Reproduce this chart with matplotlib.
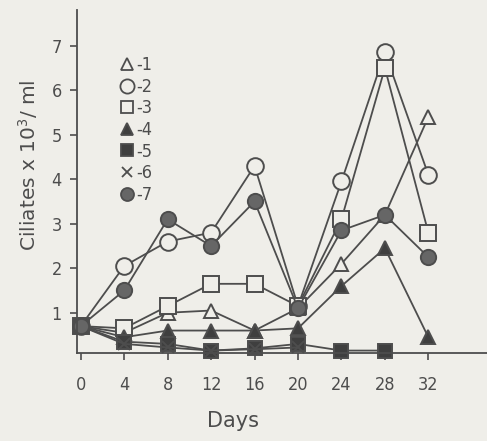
"""Ciliate counts over time for seven cultures (scanned-figure style)."""

import matplotlib

matplotlib.use("Agg")

import matplotlib.pyplot as plt
from matplotlib.lines import Line2D


PAPER = "#efeee9"
INK = "#4d4d4d"

# Sampling days and counts (x 10^3 / ml).
days = [0, 4, 8, 12, 16, 20, 24, 28, 32]
culture_1 = [0.7, 0.55, 1.0, 1.05, 0.6, 1.1, 2.1, 3.2, 5.4]
culture_2 = [0.7, 2.05, 2.6, 2.8, 4.3, 1.15, 3.95, 6.85, 4.1]
culture_3 = [0.7, 0.65, 1.15, 1.65, 1.65, 1.15, 3.1, 6.5, 2.8]
culture_4 = [0.7, 0.45, 0.6, 0.6, 0.6, 0.65, 1.6, 2.45, 0.45]
culture_5 = [0.7, 0.35, 0.3, 0.15, 0.2, 0.3, 0.15, 0.15]
culture_6 = [0.7, 0.3, 0.22, 0.15, 0.18, 0.22]
culture_7 = [0.7, 1.5, 3.1, 2.5, 3.5, 1.1, 2.85, 3.2, 2.25]

labels = ["-1", "-2", "-3", "-4", "-5", "-6", "-7"]
series = [culture_1, culture_2, culture_3, culture_4, culture_5, culture_6, culture_7]
markers = ["^", "o", "s", "^", "s", "x", "o"]
faces = [PAPER, PAPER, PAPER, "#3f3f3f", "#3f3f3f", INK, "#666666"]
sizes = [10, 12, 11, 10, 10, 8, 11]

plt.rcParams["font.family"] = "DejaVu Sans"
plt.rcParams["font.stretch"] = "condensed"

figure = plt.figure(figsize=(4.87, 4.41), dpi=100, facecolor=PAPER)
axis = figure.add_axes([0.158, 0.2, 0.842, 0.777], facecolor=PAPER)

handles = []
for values, marker, face, size, label in zip(series, markers, faces, sizes, labels):
    axis.plot(
        days[: len(values)],
        values,
        color=INK,
        linewidth=1.3,
        marker=marker,
        markersize=size,
        markerfacecolor=face,
        markeredgecolor=INK,
        markeredgewidth=1.4,
        clip_on=False,
    )
    handles.append(
        Line2D(
            [], [], linestyle="none", marker=marker, markersize=size * 0.85,
            markerfacecolor=face, markeredgecolor=INK, markeredgewidth=1.3,
            color=INK, label=label,
        )
    )

axis.set_xlim(-0.35, 37.4)
axis.set_ylim(0.1, 7.8)
axis.set_xticks(days)
axis.set_yticks([1, 2, 3, 4, 5, 6, 7])

for side in ("top", "right"):
    axis.spines[side].set_visible(False)
for side in ("left", "bottom"):
    axis.spines[side].set_color(INK)
    axis.spines[side].set_linewidth(1.3)

axis.tick_params(axis="both", colors=INK, labelcolor=INK, labelsize=13,
                 length=5, width=1.2, direction="out")
axis.tick_params(axis="x", pad=12)
axis.tick_params(axis="y", pad=6)

figure.text(0.478, 0.022, "Days", fontsize=15, fontstretch="normal",
            color=INK, ha="center", va="bottom")
figure.text(0.058, 0.625, "Ciliates x 10$^3$/ ml", fontsize=14.5,
            fontstretch="normal", color=INK, rotation=90, ha="center",
            va="center")

axis.legend(
    handles=handles,
    loc="upper left",
    bbox_to_anchor=(0.225, 0.893),
    bbox_transform=figure.transFigure,
    frameon=False,
    fontsize=13,
    labelcolor=INK,
    handlelength=0.9,
    handletextpad=0.1,
    labelspacing=0.2,
    borderpad=0,
)

figure.savefig("out.png", dpi=100, facecolor=PAPER)
